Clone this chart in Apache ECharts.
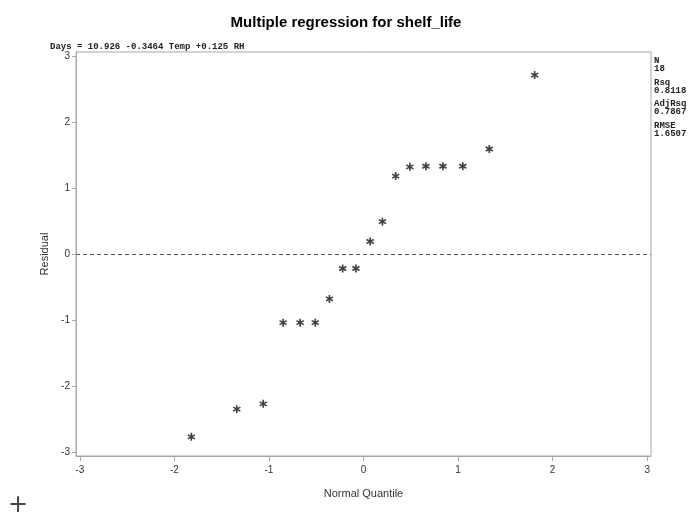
<!DOCTYPE html>
<html>
<head>
<meta charset="utf-8">
<script src="https://cdn.jsdelivr.net/npm/echarts@6/dist/echarts.min.js"></script>
<style>
html,body{margin:0;padding:0;background:#fff;}
#chart{width:692px;height:515px;}
</style>
</head>
<body>
<div id="chart"></div>
<script>
// Normal quantiles (x) and residuals (y)
var quantiles = [-1.82, -1.34, -1.06, -0.85, -0.67, -0.51, -0.36, -0.22, -0.08, 0.07, 0.20, 0.34, 0.49, 0.66, 0.84, 1.05, 1.33, 1.81];
var residuals = [-2.77, -2.35, -2.27, -1.04, -1.04, -1.04, -0.68, -0.22, -0.22, 0.19, 0.49, 1.18, 1.32, 1.33, 1.33, 1.33, 1.59, 2.71];
var xTicks = [-3, -2, -1, 0, 1, 2, 3];
var yTicks = [-3, -2, -1, 0, 1, 2, 3];
var titleText = 'Multiple regression for shelf_life';
var equationText = 'Days = 10.926 -0.3464 Temp +0.125 RH';
var statsLabels = ['N', '18', 'Rsq', '0.8118', 'AdjRsq', '0.7867', 'RMSE', '1.6507'];

var points = quantiles.map(function (q, i) { return [q, residuals[i]]; });

var asterisk = 'path://M-1,-5L1,-5L1,5L-1,5Z M3.83,-3.37L4.83,-1.63L-3.83,3.37L-4.83,1.63Z M4.83,1.63L3.83,3.37L-4.83,-1.63L-3.83,-3.37Z';

var chart = echarts.init(document.getElementById('chart'), null, {renderer: 'canvas'});

var statsY = [61, 69, 83, 91, 104, 112, 126, 134];
var graphics = [
  {type: 'text', left: 50, top: 42, style: {text: equationText, font: 'bold 9px "Liberation Mono", "Courier New", monospace', fill: '#222'}},
  {type: 'text', left: 8, top: 494, style: {text: '+', font: '24px "DejaVu Sans", sans-serif', fill: '#444'}}
];
statsLabels.forEach(function (s, i) {
  graphics.push({type: 'text', left: 654, top: statsY[i] - 5, style: {text: s, font: 'bold 9px "Liberation Mono", "Courier New", monospace', fill: '#222'}});
});

var axisColor = '#a8a8a8';
var labelFont = '"Liberation Sans", Arial, sans-serif';
chart.setOption({
  animation: false,
  backgroundColor: '#fff',
  title: {
    text: titleText,
    left: 'center',
    top: 10,
    textStyle: {fontFamily: labelFont, fontSize: 15, fontWeight: 'bold', color: '#000'}
  },
  grid: {left: 76, right: 41, top: 52, bottom: 59, show: true, borderColor: axisColor, borderWidth: 1, containLabel: false},
  xAxis: {
    type: 'value', min: -3.04, max: 3.04,
    name: 'Normal Quantile', nameLocation: 'middle', nameGap: 32,
    nameTextStyle: {fontFamily: labelFont, fontSize: 11, color: '#333'},
    axisLine: {show: true, onZero: false, lineStyle: {color: axisColor}},
    axisTick: {show: true, length: 5, lineStyle: {color: axisColor}, customValues: xTicks},
    axisLabel: {customValues: xTicks, fontFamily: labelFont, fontSize: 10, color: '#333', margin: 9},
    splitLine: {show: false}
  },
  yAxis: {
    type: 'value', min: -3.06, max: 3.06,
    name: 'Residual', nameLocation: 'middle', nameGap: 23, nameRotate: 90,
    nameTextStyle: {fontFamily: labelFont, fontSize: 11, color: '#333'},
    axisLine: {show: true, onZero: false, lineStyle: {color: axisColor}},
    axisTick: {show: true, length: 4, lineStyle: {color: axisColor}, customValues: yTicks},
    axisLabel: {customValues: yTicks, fontFamily: labelFont, fontSize: 10, color: '#333', margin: 6},
    splitLine: {show: false}
  },
  series: [{
    type: 'scatter',
    data: points,
    symbol: asterisk,
    symbolSize: 8,
    itemStyle: {color: '#111'},
    markLine: {
      silent: true,
      symbol: ['none', 'none'],
      label: {show: false},
      lineStyle: {type: [4, 3], color: '#555', width: 1},
      data: [{yAxis: 0}]
    }
  }],
  graphic: graphics
});
</script>
</body>
</html>
